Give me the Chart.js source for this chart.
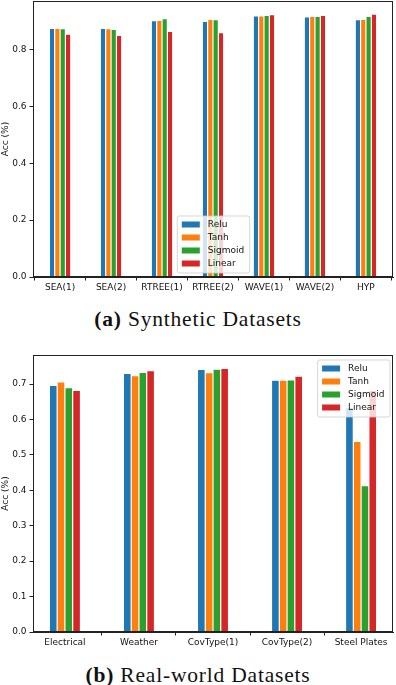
<!DOCTYPE html>
<html><head><meta charset="utf-8">
<script src="https://cdn.jsdelivr.net/npm/chart.js@4"></script>
<style>
html,body{margin:0;padding:0;background:#fff;width:396px;height:685px;overflow:hidden;}
.wrap{position:absolute;left:0;width:396px;}
.cap{position:absolute;left:0;width:396px;text-align:center;font-family:"Liberation Serif",serif;font-size:21.5px;letter-spacing:0.8px;line-height:24px;color:#111;white-space:nowrap;}
</style></head><body>
<div class="wrap" style="top:0;height:300px"><canvas id="cA" width="396" height="300"></canvas></div>
<div class="cap" style="top:307px"><b>(a)</b> Synthetic Datasets</div>
<div class="wrap" style="top:340px;height:315px"><canvas id="cB" width="396" height="315"></canvas></div>
<div class="cap" style="top:663px"><b>(b)</b> Real-world Datasets</div>
<script>
const seriesNames = ['Relu','Tanh','Sigmoid','Linear'];
const seriesColors = ['#1f77b4','#ff7f0e','#2ca02c','#d62728'];

const synthCategories = ['SEA(1)','SEA(2)','RTREE(1)','RTREE(2)','WAVE(1)','WAVE(2)','HYP'];
const synthRelu    = [0.875,0.875,0.902,0.899,0.919,0.915,0.905];
const synthTanh    = [0.875,0.874,0.903,0.906,0.919,0.917,0.906];
const synthSigmoid = [0.874,0.871,0.909,0.905,0.920,0.917,0.917];
const synthLinear  = [0.854,0.850,0.864,0.860,0.923,0.920,0.925];
const synthTicks   = [0.0,0.2,0.4,0.6,0.8];

const realCategories = ['Electrical','Weather','CovType(1)','CovType(2)','Steel Plates'];
const realRelu    = [0.696,0.730,0.741,0.711,0.634];
const realTanh    = [0.706,0.724,0.732,0.711,0.538];
const realSigmoid = [0.690,0.733,0.742,0.712,0.413];
const realLinear  = [0.682,0.738,0.744,0.722,0.682];
const realTicks   = [0.0,0.1,0.2,0.3,0.4,0.5,0.6,0.7];

const FONT = "'DejaVu Sans', sans-serif";

const framePlugin = {
  id:'frame',
  afterDatasetsDraw(chart){
    const {ctx, chartArea:a} = chart;
    ctx.save();
    ctx.strokeStyle = '#222';
    ctx.lineWidth = 1;
    ctx.strokeRect(Math.round(a.left)+0.5, Math.round(a.top)+0.5, Math.round(a.right-a.left)-1, Math.round(a.bottom-a.top)-1);
    ctx.restore();
  }
};

const legendPlugin = {
  id:'mplLegend',
  afterDatasetsDraw(chart, args, opts){
    const {ctx, chartArea:a} = chart;
    const items = chart.data.datasets;
    ctx.save();
    ctx.font = '9px ' + FONT;
    const tw = Math.max(...items.map(d => ctx.measureText(d.label).width));
    const padX = 5, sw = 18, gap = 8, row = 13, padY = 2.5;
    const w = padX + sw + gap + tw + padX;
    const h = padY*2 + row*items.length;
    let x, y;
    if (opts.loc === 'lower center') { x = (a.left + a.right)/2 - w/2; y = a.bottom - 4.5 - h; }
    else { x = a.right - 3.5 - w; y = a.top + 4.5; }
    ctx.beginPath();
    ctx.roundRect(x+0.5, y+0.5, w, h, 2);
    ctx.fillStyle = 'rgba(255,255,255,0.8)';
    ctx.fill();
    ctx.strokeStyle = 'rgba(204,204,204,0.8)';
    ctx.lineWidth = 1;
    ctx.stroke();
    ctx.textBaseline = 'middle';
    items.forEach((d,i) => {
      const cy = y + padY + row*i + row/2;
      ctx.fillStyle = d.backgroundColor;
      ctx.fillRect(x + padX, cy - 3, sw, 6);
      ctx.fillStyle = '#111';
      ctx.fillText(d.label, x + padX + sw + gap, cy + 0.5);
    });
    ctx.restore();
  }
};

function makeChart(id, cats, values, yMax, yTicks, padTop, legendLoc) {
  const n = cats.length;
  const half = 0.21;
  const margin = 0.05 * (n - 1 + 2*half);
  new Chart(document.getElementById(id), {
    type: 'bar',
    data: {
      datasets: values.map((vals, k) => ({
        label: seriesNames[k],
        data: vals.map((v, i) => ({x: i, y: v})),
        backgroundColor: seriesColors[k],
        borderColor: '#ffffff',
        borderWidth: 0.6,
        categoryPercentage: 0.42,
        barPercentage: 1.0
      }))
    },
    options: {
      responsive: false,
      animation: false,
      devicePixelRatio: 1,
      layout: {padding: {top: padTop, right: 3, left: 0, bottom: 0}},
      plugins: {
        legend: {display: false},
        tooltip: {enabled: false},
        mplLegend: {loc: legendLoc}
      },
      scales: {
        x: {
          type: 'linear',
          min: -half - margin,
          max: n - 1 + half + margin,
          offset: false,
          afterBuildTicks: s => { s.ticks = cats.map((c, i) => ({value: i})); },
          afterFit: s => { s.height = 23; s.paddingLeft = 0; s.paddingRight = 0; },
          ticks: {
            autoSkip: false, maxRotation: 0, minRotation: 0, padding: 1.5,
            color: '#111', font: {family: FONT, size: 9},
            callback: v => cats[v]
          },
          grid: {drawOnChartArea: false, tickLength: 3.5, color: '#222', tickColor: '#222', tickWidth: 1},
          border: {color: '#222', width: 1}
        },
        y: {
          min: 0, max: yMax,
          afterBuildTicks: s => { s.ticks = yTicks.map(v => ({value: v})); },
          afterFit: s => { s.width = 33; s.paddingTop = 0; s.paddingBottom = 0; },
          ticks: {
            padding: 3, color: '#111', font: {family: FONT, size: 9},
            callback: v => Number(v).toFixed(1)
          },
          grid: {drawOnChartArea: false, tickLength: 3.5, color: '#222', tickColor: '#222', tickWidth: 1},
          border: {color: '#222', width: 1},
          title: {display: true, text: 'Acc (%)', color: '#111', font: {family: FONT, size: 9}, padding: {top: 0, bottom: 0}}
        }
      }
    },
    plugins: [framePlugin, legendPlugin]
  });
}

makeChart('cA', synthCategories, [synthRelu, synthTanh, synthSigmoid, synthLinear], 0.971, synthTicks, 1, 'lower center');
makeChart('cB', realCategories, [realRelu, realTanh, realSigmoid, realLinear], 0.782, realTicks, 15, 'upper right');
</script>
</body></html>
